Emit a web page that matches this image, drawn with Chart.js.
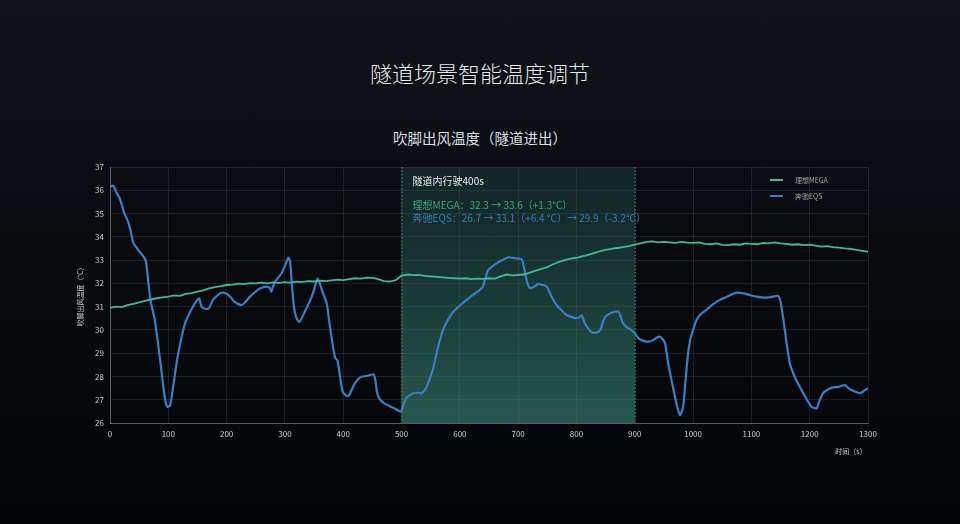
<!DOCTYPE html>
<html><head><meta charset="utf-8">
<script src="https://cdn.jsdelivr.net/npm/chart.js@4"></script>
<style>
html,body{margin:0;padding:0;width:960px;height:524px;overflow:hidden;background:linear-gradient(180deg,#10141a 0%,#080a0e 45%,#040508 100%);font-family:"Noto Sans CJK SC","Noto Sans",sans-serif;}
#wrap{position:relative;width:960px;height:524px;}
canvas{position:absolute;left:0;top:0;}
.t1{position:absolute;left:0;width:960px;top:57px;text-align:center;color:#e6e8ea;font-size:22px;line-height:30px;font-weight:300;}
.t2{position:absolute;left:0;width:960px;top:128px;text-align:center;color:#dcdfe2;font-size:14.5px;line-height:20px;}
</style></head>
<body><div id="wrap">
<div class="t1">隧道场景智能温度调节</div>
<div class="t2">吹脚出风温度（隧道进出）</div>
<canvas id="c" width="960" height="524"></canvas>
</div>
<script>
const seriesNames = ['理想MEGA', '奔驰EQS'];
const megaTime = [0,10,20,30,40,50,60,70,80,90,100,110,120,130,140,150,160,170,180,190,200,210,220,230,240,250,260,270,280,290,300,310,320,330,340,350,360,370,380,390,400,410,420,430,440,450,460,470,480,490,500,510,520,530,540,550,560,570,580,590,600,610,620,630,640,650,660,670,680,690,700,710,720,730,740,750,760,770,780,790,800,810,820,830,840,850,860,870,880,890,900,910,920,930,940,950,960,970,980,990,1000,1010,1020,1030,1040,1050,1060,1070,1080,1090,1100,1110,1120,1130,1140,1150,1160,1170,1180,1190,1200,1210,1220,1230,1240,1250,1260,1270,1280,1290,1300];
const megaTemp = [30.95,31.00,30.98,31.06,31.12,31.18,31.25,31.30,31.36,31.40,31.43,31.48,31.46,31.55,31.58,31.64,31.70,31.78,31.84,31.88,31.93,31.95,31.99,31.97,32.01,32.00,32.03,32.00,32.04,32.02,32.05,32.03,32.07,32.06,32.10,32.08,32.12,32.10,32.13,32.16,32.14,32.18,32.22,32.20,32.25,32.24,32.18,32.10,32.08,32.14,32.33,32.38,32.35,32.36,32.32,32.30,32.28,32.26,32.24,32.22,32.20,32.22,32.18,32.20,32.19,32.22,32.20,32.30,32.38,32.34,32.36,32.38,32.46,32.55,32.62,32.70,32.82,32.92,33.00,33.06,33.10,33.16,33.22,33.30,33.38,33.44,33.48,33.52,33.56,33.60,33.66,33.72,33.78,33.80,33.76,33.78,33.76,33.74,33.78,33.75,33.74,33.76,33.70,33.68,33.72,33.65,33.64,33.68,33.66,33.72,33.70,33.68,33.74,33.72,33.76,33.72,33.70,33.66,33.68,33.64,33.66,33.62,33.58,33.60,33.56,33.54,33.50,33.48,33.44,33.40,33.36];
const eqsTime = [0,5,8,12,16,20,24,31,36,40,48,56,60,62,66,70,77,86,94,98,103,108,115,122,129,140,150,153,157,165,170,177,185,192,200,207,214,226,232,240,250,257,269,274,277,280,283,294,300,306,309,312,316,320,325,334,346,352,356,359,363,368,372,378,386,390,394,399,404,409,415,420,429,440,452,455,458,462,470,480,490,499,504,509,515,520,528,535,543,549,555,562,572,580,589,600,612,625,638,644,648,655,663,673,683,694,706,709,712,716,720,727,734,742,749,757,766,775,783,792,800,805,809,814,820,826,832,838,842,846,851,860,872,876,880,887,894,900,906,912,920,926,932,942,948,952,957,963,970,975,978,983,987,991,995,1000,1006,1014,1023,1034,1046,1060,1075,1086,1097,1109,1118,1126,1136,1146,1150,1155,1160,1166,1174,1183,1193,1203,1212,1216,1223,1232,1240,1250,1260,1269,1278,1286,1293,1300];
const eqsTemp = [36.15,36.2,36.1,35.85,35.7,35.4,35.05,34.65,34.2,33.75,33.45,33.2,33.05,32.9,32.0,31.2,30.4,28.7,27.1,26.7,26.75,27.5,28.7,29.6,30.3,30.9,31.3,31.35,31.0,30.9,30.95,31.3,31.5,31.6,31.55,31.4,31.2,31.07,31.2,31.43,31.65,31.78,31.86,31.8,31.65,31.9,32.07,32.43,32.75,33.1,32.9,31.9,30.9,30.5,30.35,30.78,31.43,31.9,32.2,32.05,31.75,31.4,31.1,30.0,28.8,28.7,28.1,27.35,27.2,27.16,27.45,27.7,27.96,28.02,28.08,27.85,27.3,27.05,26.85,26.72,26.6,26.49,26.85,27.1,27.2,27.28,27.3,27.28,27.55,27.95,28.42,29.2,30.05,30.45,30.78,31.05,31.3,31.55,31.8,32.2,32.55,32.72,32.86,33.0,33.12,33.08,33.03,32.8,32.43,32.0,31.8,31.85,31.97,31.93,31.86,31.45,31.07,30.82,30.64,30.55,30.5,30.55,30.62,30.3,30.07,29.9,29.88,29.92,30.05,30.4,30.6,30.74,30.78,30.55,30.28,30.1,30.0,29.85,29.65,29.55,29.5,29.5,29.57,29.71,29.6,29.42,28.6,27.85,27.0,26.5,26.34,26.7,27.8,28.9,29.57,30.0,30.43,30.7,30.86,31.1,31.29,31.45,31.6,31.57,31.5,31.43,31.4,31.39,31.42,31.46,31.2,30.43,29.5,28.56,28.0,27.56,27.1,26.7,26.63,26.9,27.28,27.45,27.53,27.55,27.63,27.45,27.35,27.28,27.38,27.5];
const xTicks = [0,100,200,300,400,500,600,700,800,900,1000,1100,1200,1300];
const yTicks = [26,27,28,29,30,31,32,33,34,35,36,37];
const tunnelRange = [500, 900];
const noteTitle = '隧道内行驶400s';
const noteMega = '理想MEGA：32.3 → 33.6（+1.3°C）';
const noteEqs = '奔驰EQS：26.7 → 33.1（+6.4 °C）→ 29.9（-3.2°C）';
const xTitle = '时间（s）';
const yTitle = '吹脚出风温度（°C）';

const GREEN = '#43b79b';
const BLUE = '#3a7fc6';
const FONT = '"Noto Sans CJK SC","Noto Sans",sans-serif';

const zip = (xs, ys) => xs.map((x, i) => ({x, y: ys[i]}));

const overlay = {
  id: 'overlay',
  beforeDatasetsDraw(chart) {
    const {ctx, chartArea: a, scales: {x}} = chart;
    const x0 = x.getPixelForValue(tunnelRange[0]);
    const x1 = x.getPixelForValue(tunnelRange[1]);
    ctx.save();
    const g = ctx.createLinearGradient(0, a.top, 0, a.bottom);
    g.addColorStop(0, 'rgba(40,100,88,0.28)');
    g.addColorStop(1, 'rgba(58,140,122,0.62)');
    ctx.fillStyle = g;
    ctx.fillRect(x0, a.top, x1 - x0, a.bottom - a.top);
    ctx.strokeStyle = 'rgba(70,175,150,0.85)';
    ctx.lineWidth = 1;
    ctx.setLineDash([1.5, 2]);
    ctx.beginPath();
    ctx.moveTo(x0 + 0.5, a.top); ctx.lineTo(x0 + 0.5, a.bottom);
    ctx.moveTo(x1 + 0.5, a.top); ctx.lineTo(x1 + 0.5, a.bottom);
    ctx.stroke();
    ctx.restore();
  },
  afterDatasetsDraw(chart) {
    const {ctx, chartArea: a, scales: {x}} = chart;
    const x0 = x.getPixelForValue(tunnelRange[0]);
    ctx.save();
    ctx.textBaseline = 'middle';
    ctx.textAlign = 'left';
    ctx.font = '10px ' + FONT;
    ctx.fillStyle = '#e8ecec';
    ctx.fillText(noteTitle, x0 + 11, 181);
    ctx.fillStyle = 'rgba(67,183,155,0.85)';
    ctx.fillText(noteMega, x0 + 11, 205);
    ctx.fillStyle = 'rgba(58,127,198,0.95)';
    ctx.fillText(noteEqs, x0 + 11, 218);
    // legend
    ctx.font = '7px ' + FONT;
    ctx.fillStyle = '#9aa0a6';
    const lx = 770, ly = [180, 196];
    [GREEN, BLUE].forEach((c, i) => {
      ctx.strokeStyle = c;
      ctx.lineWidth = 2;
      ctx.beginPath();
      ctx.moveTo(lx, ly[i]); ctx.lineTo(lx + 13, ly[i]);
      ctx.stroke();
      ctx.fillText(seriesNames[i], lx + 25, ly[i]);
    });
    // axis titles
    ctx.fillStyle = '#c8ccd0';
    ctx.font = '7px ' + FONT;
    ctx.textAlign = 'center';
    ctx.fillText(xTitle, 851, 451);
    ctx.translate(80, (a.top + a.bottom) / 2);
    ctx.rotate(-Math.PI / 2);
    ctx.fillText(yTitle, 0, 0);
    ctx.restore();
  }
};

new Chart(document.getElementById('c'), {
  type: 'line',
  data: {
    datasets: [
      {label: seriesNames[0], data: zip(megaTime, megaTemp), borderColor: GREEN, borderWidth: 1.8, pointRadius: 0, tension: 0, fill: false},
      {label: seriesNames[1], data: zip(eqsTime, eqsTemp), borderColor: BLUE, borderWidth: 2.2, pointRadius: 0, tension: 0.25, fill: false}
    ]
  },
  options: {
    responsive: false,
    animation: false,
    devicePixelRatio: 1,
    layout: {padding: {left: 70, top: 167, right: 92, bottom: 60}},
    plugins: {legend: {display: false}, tooltip: {enabled: false}, title: {display: false}},
    scales: {
      x: {
        type: 'linear', min: 0, max: 1300,
        afterFit: s => { s.height = 41; },
        afterBuildTicks: s => { s.ticks = xTicks.map(v => ({value: v})); },
        ticks: {color: '#c8ccd0', font: {size: 8, family: FONT}, padding: 6, maxRotation: 0, autoSkip: false, callback: v => String(v)},
        grid: {color: 'rgba(255,255,255,0.09)', drawTicks: false},
        border: {color: 'rgba(255,255,255,0.28)'}
      },
      y: {
        min: 26, max: 37,
        afterFit: s => { s.width = 40; },
        afterBuildTicks: s => { s.ticks = yTicks.map(v => ({value: v})); },
        ticks: {color: '#c8ccd0', font: {size: 8, family: FONT}, padding: 6, callback: v => String(v)},
        grid: {color: 'rgba(255,255,255,0.09)', drawTicks: false},
        border: {color: 'rgba(255,255,255,0.28)'}
      }
    }
  },
  plugins: [overlay]
});
</script>
</body></html>
